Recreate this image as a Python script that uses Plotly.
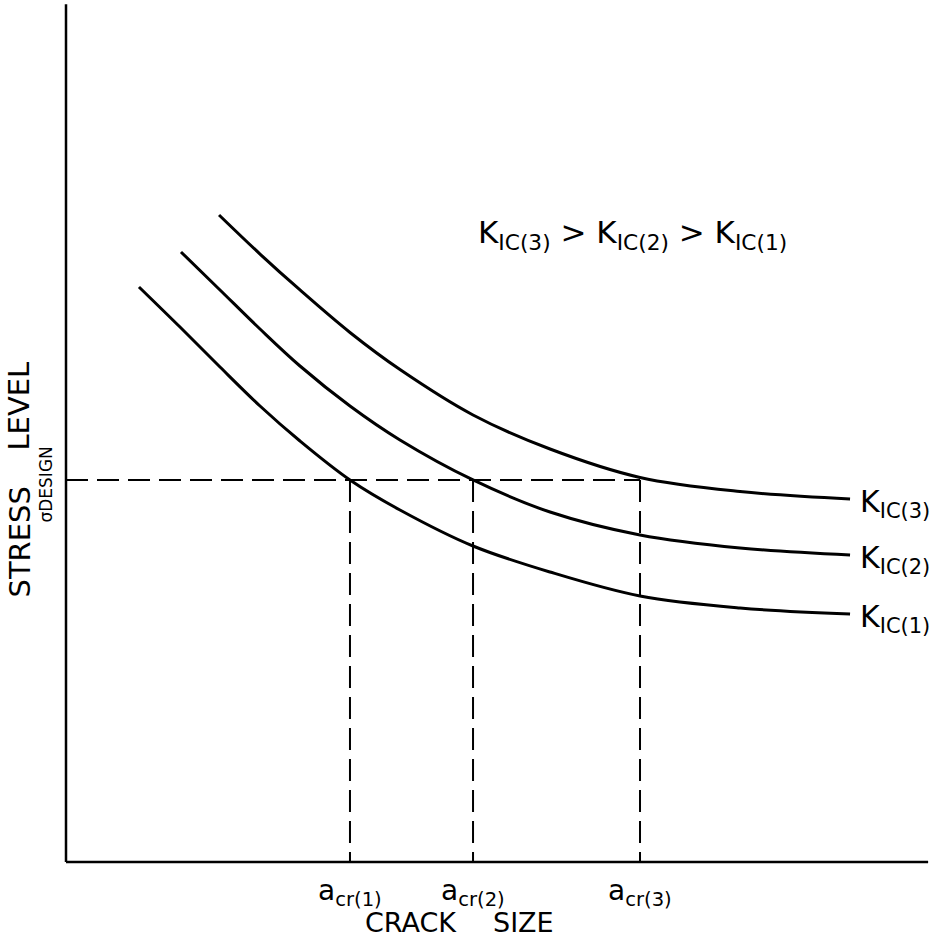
import plotly.graph_objects as go

# Unitless schematic axes (0..10)
curve_names = ["K<sub>IC(1)</sub>", "K<sub>IC(2)</sub>", "K<sub>IC(3)</sub>"]

k1_x = [0.832, 1.300, 1.756, 2.212, 2.668, 3.238, 3.808, 4.641, 5.519, 6.545, 7.685, 8.940]
k1_y = [6.671, 6.206, 5.742, 5.290, 4.884, 4.432, 4.084, 3.666, 3.364, 3.086, 2.947, 2.877]

k2_x = [1.311, 1.756, 2.212, 2.668, 3.238, 3.808, 4.641, 5.519, 6.545, 7.685, 8.940]
k2_y = [7.077, 6.636, 6.183, 5.754, 5.290, 4.896, 4.432, 4.060, 3.794, 3.643, 3.561]

k3_x = [1.745, 2.212, 2.668, 3.238, 3.808, 4.641, 5.519, 6.545, 7.685, 8.940]
k3_y = [7.506, 7.053, 6.636, 6.143, 5.713, 5.186, 4.791, 4.461, 4.298, 4.211]

sigma_design = 4.432
a_cr = [3.238, 4.641, 6.545]
a_cr_labels = ["a<sub>cr(1)</sub>", "a<sub>cr(2)</sub>", "a<sub>cr(3)</sub>"]

x_axis_end = 9.83
y_axis_end = 9.95

FONT = "DejaVu Sans"
fig = go.Figure()

# curves
for xs, ys, name in [(k1_x, k1_y, curve_names[0]), (k2_x, k2_y, curve_names[1]), (k3_x, k3_y, curve_names[2])]:
    fig.add_trace(go.Scatter(x=xs, y=ys, mode="lines", line=dict(color="black", width=3, shape="spline", smoothing=1.0),
                             showlegend=False, hoverinfo="skip"))
    fig.add_annotation(x=xs[-1], y=ys[-1], text=name, showarrow=False, xanchor="left", yanchor="middle",
                       xshift=8, yshift=-4, font=dict(family=FONT, size=30, color="black"))

# axis lines
fig.add_trace(go.Scatter(x=[0, 0], y=[y_axis_end, 0], mode="lines", line=dict(color="black", width=2.5),
                         showlegend=False, hoverinfo="skip"))
fig.add_trace(go.Scatter(x=[0, x_axis_end], y=[0, 0], mode="lines", line=dict(color="black", width=2.5),
                         showlegend=False, hoverinfo="skip"))

# dashed design stress line
fig.add_trace(go.Scatter(x=[0, a_cr[-1]], y=[sigma_design, sigma_design], mode="lines",
                         line=dict(color="black", width=2, dash="22px,9px"), showlegend=False, hoverinfo="skip"))
for a in a_cr:
    fig.add_trace(go.Scatter(x=[a, a], y=[sigma_design, 0], mode="lines",
                             line=dict(color="black", width=2, dash="22px,9px"), showlegend=False, hoverinfo="skip"))

# crack-size labels under the axis
for a, lab in zip(a_cr, a_cr_labels):
    fig.add_annotation(x=a, y=0, text=lab, showarrow=False, xanchor="center", yanchor="top", yshift=-10,
                       font=dict(family=FONT, size=28, color="black"))

# inequality note
fig.add_annotation(x=6.454, y=7.274, text="K<sub>IC(3)</sub> > K<sub>IC(2)</sub> > K<sub>IC(1)</sub>",
                   showarrow=False, xanchor="center", yanchor="middle",
                   font=dict(family=FONT, size=31, color="black"))

# axis titles (paper coordinates so they can sit outside the plotting area)
def paper(text, xp, yp, size, angle=0):
    fig.add_annotation(xref="paper", yref="paper", x=xp, y=yp, text=text, textangle=angle, showarrow=False,
                       xanchor="center", yanchor="middle", font=dict(family=FONT, size=size, color="black"))

paper("CRACK", 0.3995, -0.0609, 27)
paper("SIZE", 0.5260, -0.0609, 27)
paper("LEVEL", -0.0423, 0.5333, 29, -90)
paper("STRESS", -0.0423, 0.3770, 29, -90)
paper("\u03c3DESIGN", -0.01185, 0.4425, 17, -90)

fig.update_layout(
    width=943, height=945,
    margin=dict(l=57, r=0, t=0, b=75),
    paper_bgcolor="white", plot_bgcolor="white",
    xaxis=dict(range=[-0.1026, 9.9997], visible=False),
    yaxis=dict(range=[-0.0928, 10.0], visible=False),
)

fig.write_html("out.html")
